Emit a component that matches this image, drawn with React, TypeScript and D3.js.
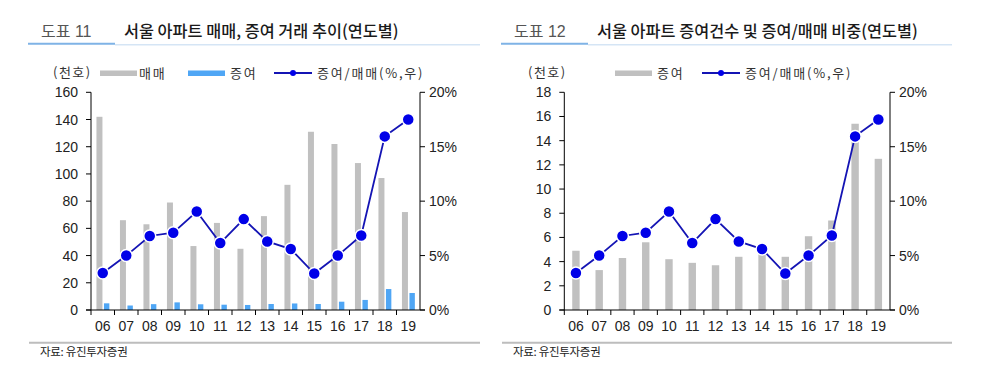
import React from "react";
import * as d3 from "d3";

const years = ["06","07","08","09","10","11","12","13","14","15","16","17","18","19"];
const tradeK = [142, 66, 63, 79, 47, 64, 45, 69, 92, 131, 122, 108, 97, 72];
const giftK = [4.9, 3.3, 4.3, 5.6, 4.2, 3.9, 3.7, 4.4, 4.8, 4.4, 6.1, 7.4, 15.4, 12.5];
const ratioPct = [3.4, 5.0, 6.8, 7.1, 9.05, 6.15, 8.35, 6.3, 5.6, 3.35, 5.0, 6.85, 15.95, 17.5];
const leftTicks1 = [0, 20, 40, 60, 80, 100, 120, 140, 160];
const leftTicks2 = [0, 2, 4, 6, 8, 10, 12, 14, 16, 18];
const rightTicks = [0, 5, 10, 15, 20];

const NUM_FONT = "'Liberation Sans', Arial, 'Noto Sans CJK KR', sans-serif";
const KR_FONT = "'Noto Sans CJK KR', 'Liberation Sans', sans-serif";
const GRAY = "#c0c0c0";
const BLUE = "#4fa6f5";
const LINE = "#1414b4";
const DOT = "#0000e8";

const TOP = 92.3;
const BASE = 310;

function Header({ x0, lineEnd, label, title }) {
  return (
    <g>
      <text x={x0 + 13} y={37} fontFamily={NUM_FONT} fontSize={16} fill="#555">{label}</text>
      <text x={x0 + 96} y={37} fontFamily={KR_FONT} fontSize={16.3} fontWeight={500} fill="#1a1a1a">{title}</text>
      <line x1={x0 + 87} x2={lineEnd} y1={44.8} y2={44.8} stroke="#d5e5f5" strokeWidth={1.6} />
      <line x1={x0} x2={x0 + 87} y1={43.8} y2={43.8} stroke="#7fb3e6" strokeWidth={2} />
    </g>
  );
}

function Chart({ x0, x1, yMax, yTicks, bars, unitX, legend, footerX, footerEnd }) {
  const x = d3.scaleBand().domain(years).range([x0, x1]).padding(0);
  const yL = d3.scaleLinear().domain([0, yMax]).range([BASE, TOP]);
  const yR = d3.scaleLinear().domain([0, 20]).range([BASE, TOP]);
  const lineGen = d3.line<number>()
    .x((_, i) => x(years[i])! + x.bandwidth() / 2)
    .y((d) => yR(d));
  const bw = x.bandwidth();
  return (
    <g>
      {bars.map((b, bi) =>
        b.values.map((v, i) => (
          <rect key={bi + "-" + i} x={x(years[i])! + bw / 2 + b.off} width={b.w}
            y={yL(v)} height={BASE - yL(v)} fill={b.color} />
        ))
      )}
      <line x1={x0} x2={x0} y1={TOP} y2={BASE} stroke="#000" />
      <line x1={x1} x2={x1} y1={TOP} y2={BASE} stroke="#000" />
      <line x1={x0 - 5} x2={x1 + 5} y1={BASE} y2={BASE} stroke="#000" />
      {yTicks.map((t) => (
        <g key={"l" + t}>
          <line x1={x0 - 5} x2={x0} y1={yL(t)} y2={yL(t)} stroke="#000" />
          <text x={x0 - 13} y={yL(t) + 5} textAnchor="end" fontFamily={NUM_FONT} fontSize={14} fill="#222">{t}</text>
        </g>
      ))}
      {rightTicks.map((t) => (
        <g key={"r" + t}>
          <line x1={x1} x2={x1 + 5} y1={yR(t)} y2={yR(t)} stroke="#000" />
          <text x={x1 + 9} y={yR(t) + 5} fontFamily={NUM_FONT} fontSize={14} fill="#222">{t + "%"}</text>
        </g>
      ))}
      {years.map((yr) => (
        <g key={"x" + yr}>
          <line x1={x(yr)!} x2={x(yr)!} y1={BASE} y2={BASE + 5} stroke="#000" />
          <text x={x(yr)! + bw / 2} y={331} textAnchor="middle" fontFamily={NUM_FONT} fontSize={14} fill="#222">{yr}</text>
        </g>
      ))}
      <path d={lineGen(ratioPct)!} fill="none" stroke={LINE} strokeWidth={1.8} />
      {ratioPct.map((v, i) => (
        <circle key={"c" + i} cx={x(years[i])! + bw / 2} cy={yR(v)} r={6} fill={DOT} stroke="#fff" strokeWidth={1.5} />
      ))}
      <text x={unitX} y={77} fontFamily={KR_FONT} fontSize={13} letterSpacing={1.5} fill="#333">(천호)</text>
      {legend.map((l, i) => (
        <g key={"lg" + i}>
          {l.type === "bar" ? (
            <rect x={l.x} y={70.5} width={37} height={5.5} fill={l.color} />
          ) : (
            <g>
              <line x1={l.x} x2={l.x + 38} y1={73} y2={73} stroke={LINE} strokeWidth={2} />
              <circle cx={l.x + 19} cy={73} r={3} fill={DOT} />
            </g>
          )}
          <text x={l.tx} y={78} fontFamily={KR_FONT} fontSize={13} letterSpacing={1.8} fill="#333">{l.text}</text>
        </g>
      ))}
      <line x1={footerX} x2={footerEnd} y1={342.8} y2={342.8} stroke="#bdbdbd" strokeWidth={2} />
      <text x={footerX + 11} y={356} fontFamily={KR_FONT} fontSize={11.5} letterSpacing={-0.3} fill="#222">자료: 유진투자증권</text>
    </g>
  );
}

export default function App() {
  return (
    <svg width={985} height={378} style={{ position: "absolute", left: 0, top: 0, background: "#fff" }}>
      <rect width={985} height={378} fill="#fff" />
      <Header x0={28} lineEnd={480} label="도표 11" title="서울 아파트 매매, 증여 거래 추이(연도별)" />
      <Header x0={501} lineEnd={952} label="도표 12" title="서울 아파트 증여건수 및 증여/매매 비중(연도별)" />
      <Chart
        x0={91} x1={420} yMax={160} yTicks={leftTicks1}
        bars={[
          { values: tradeK, color: GRAY, off: -6.3, w: 6 },
          { values: giftK, color: BLUE, off: 1.2, w: 5.4 },
        ]}
        unitX={53}
        legend={[
          { type: "bar", x: 100, tx: 139, color: GRAY, text: "매매" },
          { type: "bar", x: 188, tx: 230, color: BLUE, text: "증여" },
          { type: "line", x: 274, tx: 317, text: "증여/매매(%,우)" },
        ]}
        footerX={29} footerEnd={480}
      />
      <Chart
        x0={564.3} x1={890} yMax={18} yTicks={leftTicks2}
        bars={[{ values: giftK, color: GRAY, off: -3.7, w: 7.4 }]}
        unitX={528}
        legend={[
          { type: "bar", x: 615, tx: 657, color: GRAY, text: "증여" },
          { type: "line", x: 702, tx: 745, text: "증여/매매(%,우)" },
        ]}
        footerX={502} footerEnd={952}
      />
    </svg>
  );
}
